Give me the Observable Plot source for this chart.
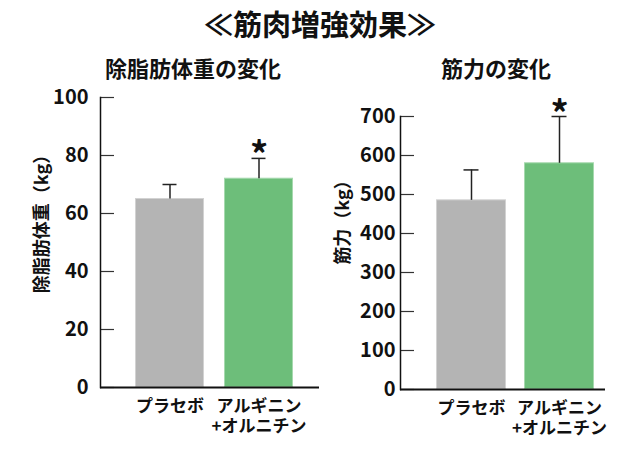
<!DOCTYPE html>
<html>
<head>
<meta charset="utf-8">
<script src="https://cdn.jsdelivr.net/npm/d3@7"></script>
<script src="https://cdn.jsdelivr.net/npm/@observablehq/plot@0.6"></script>
<style>
  html, body { margin: 0; padding: 0; background: #fff; }
  #root { position: relative; width: 640px; height: 450px; font-family: "Noto Sans CJK JP", "Noto Sans", sans-serif; color: #111; }
  .t { position: absolute; white-space: nowrap; font-weight: bold; transform: translate(-50%, -50%); }
  #title { left: 320px; top: 23px; font-size: 29px; letter-spacing: 0px; }
  #sub1 { left: 193px; top: 67px; font-size: 22px; }
  #sub2 { left: 496px; top: 67px; font-size: 22px; }
  .chart { position: absolute; top: 90px; }
  .chart svg { overflow: visible; }
  #c1 { left: 0px; }
  #c2 { left: 320px; }
</style>
</head>
<body>
<div id="root">
  <div id="title" class="t">≪筋肉増強効果≫</div>
  <div id="sub1" class="t">除脂肪体重の変化</div>
  <div id="sub2" class="t">筋力の変化</div>
  <div id="c1" class="chart"></div>
  <div id="c2" class="chart"></div>
</div>
<script>
const categories = ["プラセボ", "アルギニン\n+オルニチン"];
const barColors = ["#b4b4b4", "#6dbe7a"];
const edgeColors = ["#d2d2d2", "#a6d9ae"];
const significance = ["", "*"];

const leanMassValues = [65, 72];
const leanMassErrors = [5, 7];
const leanMassTicks = [0, 20, 40, 60, 80, 100];

const strengthValues = [485, 580];
const strengthErrors = [78, 120];
const strengthTicks = [0, 100, 200, 300, 400, 500, 600, 700];

function makeChart(o) {
  const data = categories.map((c, i) => ({
    cat: c, v: o.values[i], e: o.errors[i], top: o.values[i] + o.errors[i],
    fill: barColors[i], edge: edgeColors[i], sig: significance[i]
  }));
  const frameW = o.width - o.marginLeft - o.marginRight;
  return Plot.plot({
    width: o.width,
    height: o.height,
    marginLeft: o.marginLeft,
    marginRight: o.marginRight,
    marginTop: o.marginTop,
    marginBottom: o.marginBottom,
    style: { fontFamily: "'Noto Sans CJK JP', sans-serif", fontSize: "20px", fontWeight: "bold", color: "#111", background: "transparent", overflow: "visible" },
    x: { domain: categories, paddingInner: o.padIn, paddingOuter: o.padOut, align: o.align },
    y: { domain: [0, o.max] },
    marks: [
      Plot.barY(data, { x: "cat", y: "v", fill: "fill", stroke: "edge", strokeWidth: 1, insetLeft: 0.5, insetRight: 0.5 }),
      Plot.ruleX(data, { x: "cat", y1: "v", y2: "top", stroke: "#222", strokeWidth: 1.5 }),
      Plot.tickY(data, { x: "cat", y: "top", stroke: "#222", strokeWidth: 1.5, insetLeft: 27.5, insetRight: 27.5 }),
      Plot.text(data, { x: "cat", y: "top", text: "sig", lineAnchor: "bottom", dy: 10, fontSize: 36, fontWeight: "bold", fill: "#111" }),
      Plot.tickY(o.ticks, { y: d => d, stroke: "#333", strokeWidth: 1.2, insetRight: frameW - 14 }),
      Plot.frame({ anchor: "left", stroke: "#111", strokeWidth: 1.5 }),
      Plot.ruleY([0], { stroke: "#111", strokeWidth: 2 }),
      Plot.axisY({ ticks: o.ticks, tickSize: 0, tickPadding: o.tickPadding, fontSize: 20, fontWeight: "bold",
        label: null }),
      Plot.text([o.ylabel], { text: d => d, frameAnchor: "left", rotate: -90, dx: o.labelDx, dy: o.labelDy,
        fontSize: 18, fontWeight: "bold", fill: "#111", lineAnchor: "middle", textAnchor: "middle" }),
      Plot.axisX({ tickSize: 0, tickPadding: 10, fontSize: 17, fontWeight: "bold", lineHeight: 1.2, label: null })
    ]
  });
}

const chart1 = makeChart({
  values: leanMassValues, errors: leanMassErrors, ticks: leanMassTicks, max: 100,
  width: 320, height: 360, marginLeft: 100, marginRight: 1, marginTop: 7, marginBottom: 63,
  padIn: 0.222, padOut: 0.328, align: 0.576, ylabel: "除脂肪体重（kg）", labelDx: -58, labelDy: -23, tickPadding: 12
});
const chart2 = makeChart({
  values: strengthValues, errors: strengthErrors, ticks: strengthTicks, max: 700,
  width: 320, height: 360, marginLeft: 80, marginRight: 35, marginTop: 26, marginBottom: 61,
  padIn: 0.2045, padOut: 0.267, align: 0.766, ylabel: "筋力（kg）", labelDx: -57, labelDy: -35, tickPadding: 5
});
document.getElementById("c1").appendChild(chart1);
document.getElementById("c2").appendChild(chart2);
</script>
</body>
</html>
